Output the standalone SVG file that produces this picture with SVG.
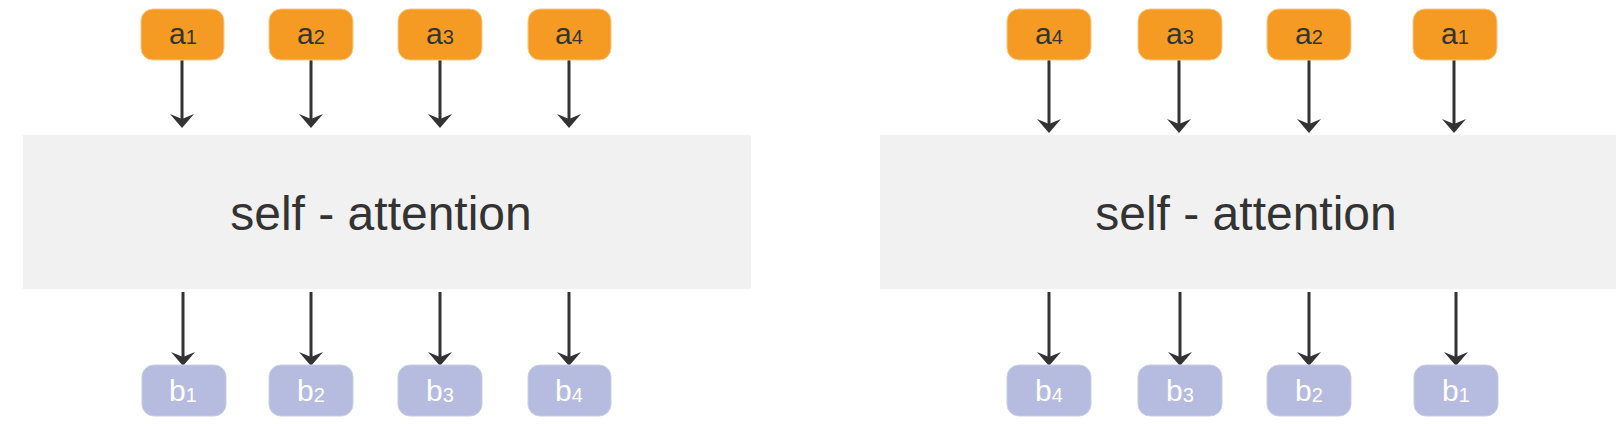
<svg xmlns="http://www.w3.org/2000/svg" width="1619" height="424" viewBox="0 0 1619 424">
  <style>
    .a { fill: #F59B23; stroke: #F8C98A; stroke-width: 1; }
    .b { fill: #B6BCDF; stroke: #C9CDE8; stroke-width: 1; }
    .sa { fill: #F1F1F1; }
    .ta { font-family: "Liberation Sans", Arial, sans-serif; fill: #333333; text-anchor: middle; }
    .tb { font-family: "Liberation Sans", Arial, sans-serif; fill: #FFFFFF; text-anchor: middle; }
    .big { font-size: 30px; }
    .sub { font-size: 20px; }
    .title { font-family: "Liberation Sans", Arial, sans-serif; fill: #333333; text-anchor: middle; font-size: 48px; }
    .c { stroke: #333333; stroke-width: 3; fill: none; marker-end: url(#arr); }
  </style>
  <defs>
    <marker id="arr" markerUnits="userSpaceOnUse" orient="auto" markerWidth="15" markerHeight="26" refX="5" refY="0" overflow="visible">
      <path d="M0,-12 L14,0 L0,12 L5,0 Z" fill="#333333"/>
    </marker>
  </defs>

  <rect width="1619" height="424" fill="#FFFFFF"/>

  <g id="sa-left">
    <rect class="sa" x="23" y="135" width="728" height="154"/>
    <text class="title" x="381" y="230">self - attention</text>
  </g>
  <g id="sa-right">
    <rect class="sa" x="880" y="135" width="736" height="154"/>
    <text class="title" x="1246" y="230">self - attention</text>
  </g>

  <g id="connectors">
    <path class="c" d="M182,60 V119"/>
    <path class="c" d="M311,60 V119"/>
    <path class="c" d="M440,60 V119"/>
    <path class="c" d="M569,60 V119"/>
    <path class="c" d="M183,292 V357"/>
    <path class="c" d="M311,292 V357"/>
    <path class="c" d="M440,292 V357"/>
    <path class="c" d="M569,292 V357"/>
    <path class="c" d="M1049,60 V124"/>
    <path class="c" d="M1179,60 V124"/>
    <path class="c" d="M1309,60 V124"/>
    <path class="c" d="M1454,60 V124"/>
    <path class="c" d="M1049,292 V357"/>
    <path class="c" d="M1180,292 V357"/>
    <path class="c" d="M1309,292 V357"/>
    <path class="c" d="M1456,292 V357"/>
  </g>

  <g id="L-a1"><rect class="a" x="141" y="9" width="83" height="51" rx="12"/><text class="ta" x="183" y="43.5"><tspan class="big">a</tspan><tspan class="sub">1</tspan></text></g>
  <g id="L-a2"><rect class="a" x="269" y="9" width="84" height="51" rx="12"/><text class="ta" x="311" y="43.5"><tspan class="big">a</tspan><tspan class="sub">2</tspan></text></g>
  <g id="L-a3"><rect class="a" x="398" y="9" width="84" height="51" rx="12"/><text class="ta" x="440" y="43.5"><tspan class="big">a</tspan><tspan class="sub">3</tspan></text></g>
  <g id="L-a4"><rect class="a" x="528" y="9" width="83" height="51" rx="12"/><text class="ta" x="569" y="43.5"><tspan class="big">a</tspan><tspan class="sub">4</tspan></text></g>

  <g id="L-b1"><rect class="b" x="142" y="365" width="84" height="51" rx="12"/><text class="tb" x="183" y="401"><tspan class="big">b</tspan><tspan class="sub" dy="1">1</tspan></text></g>
  <g id="L-b2"><rect class="b" x="269" y="365" width="84" height="51" rx="12"/><text class="tb" x="311" y="401"><tspan class="big">b</tspan><tspan class="sub" dy="1">2</tspan></text></g>
  <g id="L-b3"><rect class="b" x="398" y="365" width="84" height="51" rx="12"/><text class="tb" x="440" y="401"><tspan class="big">b</tspan><tspan class="sub" dy="1">3</tspan></text></g>
  <g id="L-b4"><rect class="b" x="528" y="365" width="83" height="51" rx="12"/><text class="tb" x="569" y="401"><tspan class="big">b</tspan><tspan class="sub" dy="1">4</tspan></text></g>

  <g id="R-a4"><rect class="a" x="1007" y="9" width="84" height="51" rx="12"/><text class="ta" x="1049" y="43.5"><tspan class="big">a</tspan><tspan class="sub">4</tspan></text></g>
  <g id="R-a3"><rect class="a" x="1138" y="9" width="84" height="51" rx="12"/><text class="ta" x="1180" y="43.5"><tspan class="big">a</tspan><tspan class="sub">3</tspan></text></g>
  <g id="R-a2"><rect class="a" x="1267" y="9" width="84" height="51" rx="12"/><text class="ta" x="1309" y="43.5"><tspan class="big">a</tspan><tspan class="sub">2</tspan></text></g>
  <g id="R-a1"><rect class="a" x="1413" y="9" width="84" height="51" rx="12"/><text class="ta" x="1455" y="43.5"><tspan class="big">a</tspan><tspan class="sub">1</tspan></text></g>

  <g id="R-b4"><rect class="b" x="1007" y="365" width="84" height="51" rx="12"/><text class="tb" x="1049" y="401"><tspan class="big">b</tspan><tspan class="sub" dy="1">4</tspan></text></g>
  <g id="R-b3"><rect class="b" x="1138" y="365" width="84" height="51" rx="12"/><text class="tb" x="1180" y="401"><tspan class="big">b</tspan><tspan class="sub" dy="1">3</tspan></text></g>
  <g id="R-b2"><rect class="b" x="1267" y="365" width="84" height="51" rx="12"/><text class="tb" x="1309" y="401"><tspan class="big">b</tspan><tspan class="sub" dy="1">2</tspan></text></g>
  <g id="R-b1"><rect class="b" x="1414" y="365" width="84" height="51" rx="12"/><text class="tb" x="1456" y="401"><tspan class="big">b</tspan><tspan class="sub" dy="1">1</tspan></text></g>
</svg>
